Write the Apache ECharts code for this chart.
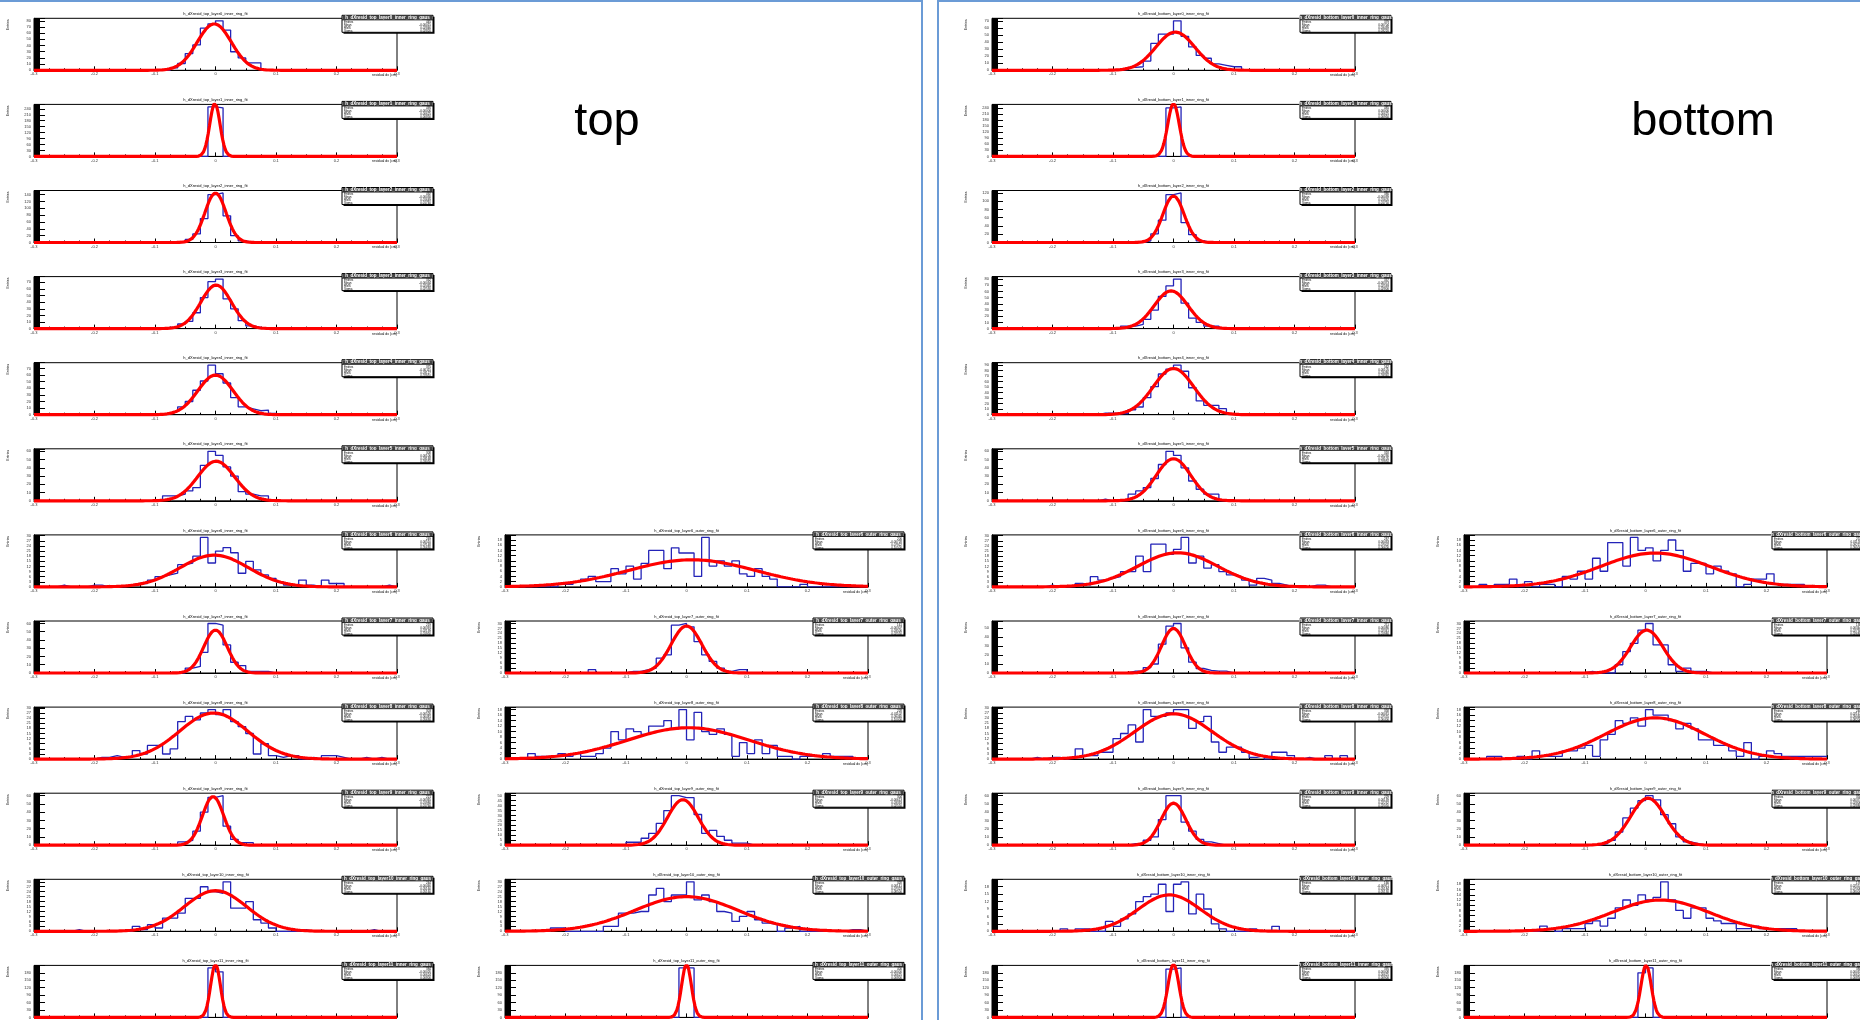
<!DOCTYPE html>
<html><head><meta charset="utf-8">
<script src="https://cdn.jsdelivr.net/npm/echarts@6/dist/echarts.min.js"></script>
<style>html,body{margin:0;padding:0;background:#fff}#c{width:1860px;height:1020px}</style>
</head><body><div id="c"></div><script>
// ---------- axis definition (shared by all histograms) ----------
const X_MIN = -0.3, X_MAX = 0.3, N_BINS = 48;
const X_TICK_STEP = 0.1;

// ---------- "top" half, left column, rows 1-12 ----------
const topCol1Start = [18, 23, 20, 17, 16, 17, 3, 20, 8, 19, 5, 23];
const topCol1Counts = [
  [4,11,27,41,68,75,80,65,30,20,12,12],
  [250,245],
  [9,25,70,140,145,78,20,5],
  [2,2,7,11,24,47,71,75,45,30,12,4,2],
  [1,2,5,12,20,37,51,75,62,48,26,12,9,6,7,2],
  [6,6,8,12,16,43,60,55,41,30,11,8,6,6],
  [1,0,0,0,1,1,0,0,0,1,2,2,4,6,7,8,13,14,18,29,14,21,23,20,8,15,10,7,5,3,1,1,4,1,0,4,2,2,0,0,0,0,0,1],
  [6,8,25,60,58,34,13,9,2,2,2],
  [1,1,2,1,1,5,3,8,8,3,6,22,25,23,27,29,26,29,22,19,15,3,9,2,1,2,2,0,1,0,2,2,1,0,0,1,0,1],
  [4,6,17,40,58,60,23,7,3,3],
  [1,0,0,0,0,0,0,0,3,1,4,2,8,8,11,20,20,27,24,23,30,14,14,18,7,5,2,0,0,0,1,0,0,0,0,0,0,0,0,1],
  [200,184]
];
const topCol1FitConst = [75, 268, 145, 66, 60, 48, 18.6, 52, 27, 59, 24.6, 215];
const topCol1FitMean  = [-0.002, -0.001, 0.0, 0.001, 0.0, 0.001, -0.002, 0.0, -0.003, -0.004, 0.0, 0.0];
const topCol1FitSigma = [0.0282, 0.0085, 0.0174, 0.0253, 0.0291, 0.0305, 0.0563, 0.0195, 0.0563, 0.0176, 0.0516, 0.008];

// ---------- "top" half, right column, rows 7-12 ----------
const topCol2Start = [7, 11, 3, 16, 6, 23];
const topCol2Counts = [
  [1,1,2,3,4,2,2,7,5,8,3,9,14,14,7,15,13,13,4,19,8,10,8,10,5,4,7,4,3,0,0,0,1],
  [2,0,0,0,0,1,1,2,3,9,11,29,30,28,19,11,7,3,1,2,2],
  [2,1,1,1,2,1,2,1,1,2,4,10,7,11,10,9,12,12,14,11,18,7,17,10,9,11,9,1,6,2,7,2,5,1,1,0,1,1,1,2,1,1,1],
  [3,3,7,12,22,35,50,48,48,31,12,15,9,5,2,2],
  [2,2,0,0,0,0,0,3,3,11,11,12,12,22,26,18,22,22,30,19,22,18,12,11,6,9,12,7,5,4,0,2,3,0,0,0,0,0,0,1,1],
  [200,200]
];
const topCol2FitConst = [10.4, 28.5, 11.4, 46, 21, 215];
const topCol2FitMean  = [0.009, 0.0, 0.003, -0.006, 0.0, 0.0];
const topCol2FitSigma = [0.105, 0.0255, 0.100, 0.0255, 0.085, 0.008];

// ---------- "bottom" half, left column, rows 1-12 ----------
const botCol1Start = [16, 23, 20, 17, 14, 14, 7, 18, 5, 18, 9, 23];
const botCol1Counts = [
  [1,1,4,5,13,38,51,51,70,48,33,21,17,9,7,5,5],
  [240,245],
  [4,21,54,116,120,48,19,4],
  [4,4,7,15,30,52,69,80,41,17,10,4,4],
  [3,3,2,2,9,14,31,51,74,83,90,79,49,25,17,17,11,2],
  [2,0,0,0,8,12,16,27,44,60,55,40,24,14,8,8],
  [1,0,0,0,2,1,6,4,5,6,9,9,18,9,25,25,19,22,29,14,18,11,13,9,7,6,4,1,5,4,2,1,0,0,0,1,1],
  [2,2,6,10,32,52,55,28,12,5,3,2,2],
  [1,0,1,1,0,1,6,2,2,4,4,12,15,20,10,29,25,25,27,29,29,18,22,25,10,4,7,7,4,1,2,0,4,4,2,0,1,0,0,2,0,2],
  [2,2,6,10,31,60,60,28,17,7,4,2],
  [1,0,1,1,0,0,4,2,5,7,12,14,15,19,8,19,20,7,15,9,3,1,0,0,0,1,0,0,2],
  [195,200]
];
const botCol1FitConst = [54, 262, 113, 61, 84, 51, 20, 49.5, 26.5, 51, 14.7, 215];
const botCol1FitMean  = [0.003, 0.0, 0.0, -0.004, 0.0, 0.0, 0.007, 0.0, 0.0, 0.0, -0.007, 0.0];
const botCol1FitSigma = [0.0322, 0.0095, 0.0175, 0.028, 0.0334, 0.0285, 0.066, 0.0198, 0.064, 0.0205, 0.0513, 0.009];

// ---------- "bottom" half, right column, rows 7-12 ----------
const botCol2Start = [2, 16, 3, 18, 10, 23];
const botCol2Counts = [
  [1,0,1,1,3,0,2,0,1,1,0,4,3,6,3,11,6,17,17,8,19,14,15,10,14,18,14,6,9,9,5,8,6,5,0,1,3,3,5,1,1,1,1],
  [1,0,0,0,5,13,18,26,30,17,17,5,1,3,1,1],
  [1,1,0,0,1,0,3,1,1,1,3,3,4,5,1,7,9,14,13,15,12,18,16,16,14,11,13,11,7,7,5,5,3,1,6,0,1,3,2,1,1,1,1,1,1],
  [2,6,16,33,45,54,60,55,37,26,10,4,2],
  [2,1,0,1,1,1,3,4,2,5,9,12,10,14,12,13,19,12,8,5,9,9,5,4,3,3,1,1,2,1,1,1,1,1],
  [180,200]
];
const botCol2FitConst = [13, 26, 15, 57, 12, 212];
const botCol2FitMean  = [0.016, 0.002, 0.016, 0.004, 0.025, 0.001];
const botCol2FitSigma = [0.09, 0.0268, 0.082, 0.0288, 0.08, 0.0085];

const halfLabels = ['top', 'bottom'];

// ---------- layout ----------
const FONT = 'Liberation Sans, Arial, sans-serif';
const COL_LEFT = [34, 505, 992, 1464];
const FRAME_W = 363, FRAME_H = 52;
const rowTop = r => 18.3 + 86.1 * r;
const BIN_W = (X_MAX - X_MIN) / N_BINS;

const panels = [];
function addGroup(half, colIdx, firstRow, starts, counts, C, M, S) {
  for (let i = 0; i < starts.length; i++) {
    panels.push({half, colIdx, row: firstRow + i, start: starts[i], counts: counts[i], C: C[i], M: M[i], S: S[i]});
  }
}
addGroup('top', 0, 0, topCol1Start, topCol1Counts, topCol1FitConst, topCol1FitMean, topCol1FitSigma);
addGroup('top', 1, 6, topCol2Start, topCol2Counts, topCol2FitConst, topCol2FitMean, topCol2FitSigma);
addGroup('bot', 2, 0, botCol1Start, botCol1Counts, botCol1FitConst, botCol1FitMean, botCol1FitSigma);
addGroup('bot', 3, 6, botCol2Start, botCol2Counts, botCol2FitConst, botCol2FitMean, botCol2FitSigma);

const grid = [], xAxis = [], yAxis = [], series = [], graphic = [];
const BLK = '#000';

panels.forEach((p, i) => {
  const left = COL_LEFT[p.colIdx], top = rowTop(p.row);
  const full = new Array(N_BINS).fill(0);
  p.counts.forEach((v, k) => { full[p.start + k] = v; });
  const maxC = Math.max(...full);
  const yMax = maxC * 1.05;

  grid.push({left, top, width: FRAME_W, height: FRAME_H, show: true,
    borderColor: BLK, borderWidth: 1, backgroundColor: 'rgba(0,0,0,0)',
    containLabel: false, outerBoundsMode: 'none'});

  xAxis.push({gridIndex: i, type: 'value', min: X_MIN, max: X_MAX, interval: X_TICK_STEP,
    axisLine: {onZero: false, lineStyle: {color: BLK, width: 1}},
    axisTick: {inside: true, length: 4, lineStyle: {color: BLK, width: 1}},
    minorTick: {show: true, splitNumber: 4, length: 2, lineStyle: {color: BLK, width: 1}},
    axisLabel: {fontSize: 4, margin: 2, color: '#333', fontFamily: FONT,
      formatter: v => (Math.abs(v) < 1e-9 ? '0' : (+v).toFixed(1))},
    splitLine: {show: false}});

  yAxis.push({gridIndex: i, type: 'value', min: 0, max: yMax, splitNumber: 8,
    axisLine: {show: true, onZero: false, lineStyle: {color: BLK, width: 1}},
    axisTick: {show: true, inside: true, length: 11, lineStyle: {color: BLK, width: 1}},
    minorTick: {show: true, splitNumber: 10, length: 6, lineStyle: {color: BLK, width: 1}},
    axisLabel: {fontSize: 4, margin: 3, color: '#333', fontFamily: FONT, showMaxLabel: false},
    splitLine: {show: false}});

  const histPts = full.map((v, k) => [X_MIN + k * BIN_W, v]);
  histPts.push([X_MAX, full[N_BINS - 1]]);
  series.push({type: 'line', xAxisIndex: i, yAxisIndex: i, data: histPts, step: 'end',
    symbol: 'none', silent: true, animation: false, z: 3,
    lineStyle: {color: '#2323b8', width: 1.3}});

  const fitPts = [];
  const NP = 300;
  for (let j = 0; j <= NP; j++) {
    const x = X_MIN + j * (X_MAX - X_MIN) / NP;
    fitPts.push([x, p.C * Math.exp(-0.5 * Math.pow((x - p.M) / p.S, 2))]);
  }
  series.push({type: 'line', xAxisIndex: i, yAxisIndex: i, data: fitPts, symbol: 'none',
    silent: true, animation: false, clip: false, z: 4,
    lineStyle: {color: '#ff0000', width: 3.2}});

  // statistics
  let n = 0, s1 = 0, s2 = 0;
  full.forEach((v, k) => { const xc = X_MIN + (k + 0.5) * BIN_W; n += v; s1 += v * xc; s2 += v * xc * xc; });
  const mean = s1 / n, rms = Math.sqrt(Math.max(s2 / n - mean * mean, 0));
  const side = p.colIdx % 2 === 0 ? 'inner' : 'outer';
  const name = 'h_dXresid_' + (p.half === 'top' ? 'top' : 'bottom') + '_layer' + p.row + '_' + side + '_ring';

  // title
  graphic.push({type: 'text', z: 100, x: left + FRAME_W / 2, y: top - 4.5,
    style: {text: name + '_fit', fontSize: 4, fontFamily: FONT, fill: BLK, align: 'center', verticalAlign: 'middle'}});
  // y title
  graphic.push({type: 'text', z: 100, x: left - 26, y: top + 1, rotation: Math.PI / 2,
    style: {text: 'Entries', fontSize: 3.5, fontFamily: FONT, fill: BLK, align: 'right', verticalAlign: 'middle'}});
  // x title
  graphic.push({type: 'text', z: 100, x: left + FRAME_W, y: top + FRAME_H + 5,
    style: {text: 'residual dx (cm)', fontSize: 3.5, fontFamily: FONT, fill: BLK, align: 'right', verticalAlign: 'middle'}});

  // stats box
  const bx = left + FRAME_W - 55, by = top - 3, bw = 91, bh = 17;
  graphic.push({type: 'rect', z: 100, shape: {x: bx + 1.5, y: by + 1.5, width: bw, height: bh}, style: {fill: BLK}});
  graphic.push({type: 'rect', z: 101, shape: {x: bx, y: by, width: bw, height: bh}, style: {fill: '#fff', stroke: BLK, lineWidth: 1}});
  graphic.push({type: 'rect', z: 101.5, shape: {x: bx + 0.5, y: by + 0.5, width: bw - 1, height: 4}, style: {fill: '#444'}});
  graphic.push({type: 'text', z: 102, x: bx + bw / 2, y: by + 2.5,
    style: {text: name + '_gaus', fontSize: 4.5, fontWeight: 'bold', fontFamily: FONT, fill: '#fff', align: 'center', verticalAlign: 'middle'}});
  graphic.push({type: 'line', z: 102, shape: {x1: bx, y1: by + 4.6, x2: bx + bw, y2: by + 4.6}, style: {stroke: BLK, lineWidth: 0.8}});
  const rows = [['Entries', String(n)], ['Mean', mean.toFixed(5)], ['RMS', rms.toFixed(5)], ['Sigma', p.S.toFixed(5)]];
  rows.forEach((r, k) => {
    const yy = by + 7 + 3 * k;
    graphic.push({type: 'text', z: 102, x: bx + 2, y: yy,
      style: {text: r[0], fontSize: 3, fontFamily: FONT, fill: BLK, align: 'left', verticalAlign: 'middle'}});
    graphic.push({type: 'text', z: 102, x: bx + bw - 2, y: yy,
      style: {text: r[1], fontSize: 3, fontFamily: FONT, fill: BLK, align: 'right', verticalAlign: 'middle'}});
  });
});

// half frames (blue) and big labels
const BLUE = '#6b9bd6';
[[0, 1, 922, 1], [922, 0, 922, 1020], [938, 0, 938, 1020], [938, 1, 1860, 1]].forEach(l => {
  graphic.push({type: 'line', z: 90, shape: {x1: l[0], y1: l[1], x2: l[2], y2: l[3]}, style: {stroke: BLUE, lineWidth: 2}});
});
graphic.push({type: 'text', z: 100, x: 607, y: 122,
  style: {text: halfLabels[0], fontSize: 47, fontFamily: FONT, fill: '#000', align: 'center', verticalAlign: 'middle'}});
graphic.push({type: 'text', z: 100, x: 1703, y: 122,
  style: {text: halfLabels[1], fontSize: 47, fontFamily: FONT, fill: '#000', align: 'center', verticalAlign: 'middle'}});

const chart = echarts.init(document.getElementById('c'), null, {renderer: 'canvas'});
chart.setOption({animation: false, backgroundColor: '#fff', grid, xAxis, yAxis, series, graphic});
</script></body></html>
